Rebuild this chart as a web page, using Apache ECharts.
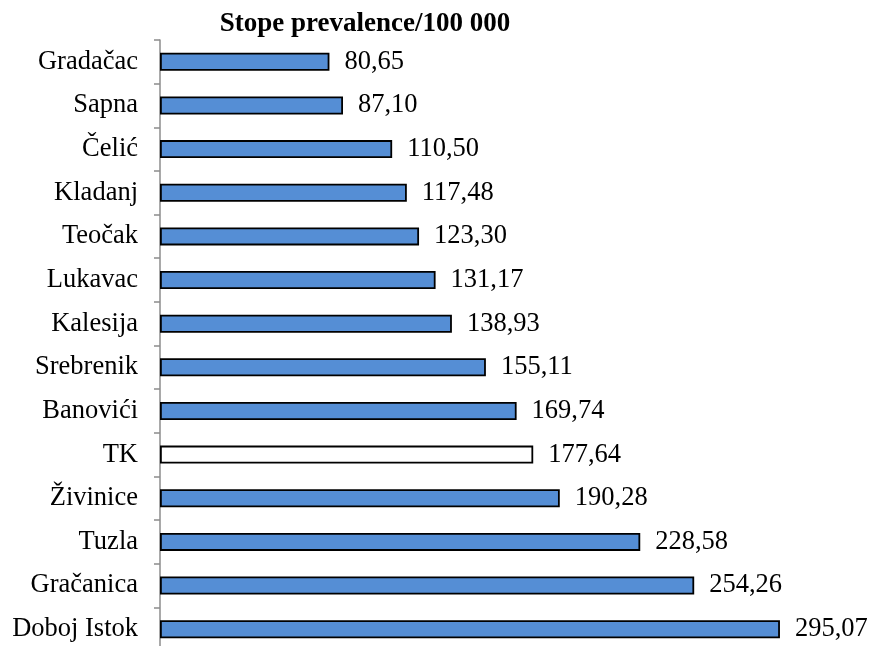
<!DOCTYPE html>
<html>
<head>
<meta charset="utf-8">
<script src="https://cdn.jsdelivr.net/npm/echarts@6/dist/echarts.min.js"></script>
<style>html,body{margin:0;padding:0;background:#fff;overflow:hidden;}#c{width:870px;height:660px;}</style>
</head>
<body>
<div id="c"></div>
<script>
const categories = ['Gradačac','Sapna','Čelić','Kladanj','Teočak','Lukavac','Kalesija','Srebrenik','Banovići','TK','Živinice','Tuzla','Gračanica','Doboj Istok'];
const values = [80.65, 87.10, 110.50, 117.48, 123.30, 131.17, 138.93, 155.11, 169.74, 177.64, 190.28, 228.58, 254.26, 295.07];
const highlight = 'TK';
const titleText = 'Stope prevalence/100 000';

const chart = echarts.init(document.getElementById('c'));
const serif = '"Liberation Serif", "Times New Roman", serif';
chart.setOption({
  animation: false,
  title: {
    text: titleText, left: 360, top: 6, textAlign: 'center',
    textStyle: { fontFamily: serif, fontWeight: 'bold', fontSize: 27, color: '#000' }
  },
  grid: { left: 160, top: 40, width: 630.3, height: 611 },
  xAxis: { type: 'value', min: 0, max: 300, show: false },
  yAxis: {
    type: 'category', data: categories, inverse: true,
    axisLine: { show: true, lineStyle: { color: '#8c8c8c', width: 1.5 } },
    axisTick: { show: true, length: 6, lineStyle: { color: '#8c8c8c', width: 1.5 } },
    axisLabel: { fontFamily: serif, fontSize: 26.5, color: '#000', margin: 22 }
  },
  series: [{
    type: 'bar', barWidth: 18,
    data: values.map((v, i) => ({
      value: v,
      itemStyle: { color: categories[i] === highlight ? '#ffffff' : '#558ed5', borderColor: '#000', borderWidth: 1.8 }
    })),
    label: {
      show: true, position: 'right', distance: 15,
      fontFamily: serif, fontSize: 26.5, color: '#000',
      formatter: p => p.value.toFixed(2).replace('.', ',')
    }
  }]
});
</script>
</body>
</html>
